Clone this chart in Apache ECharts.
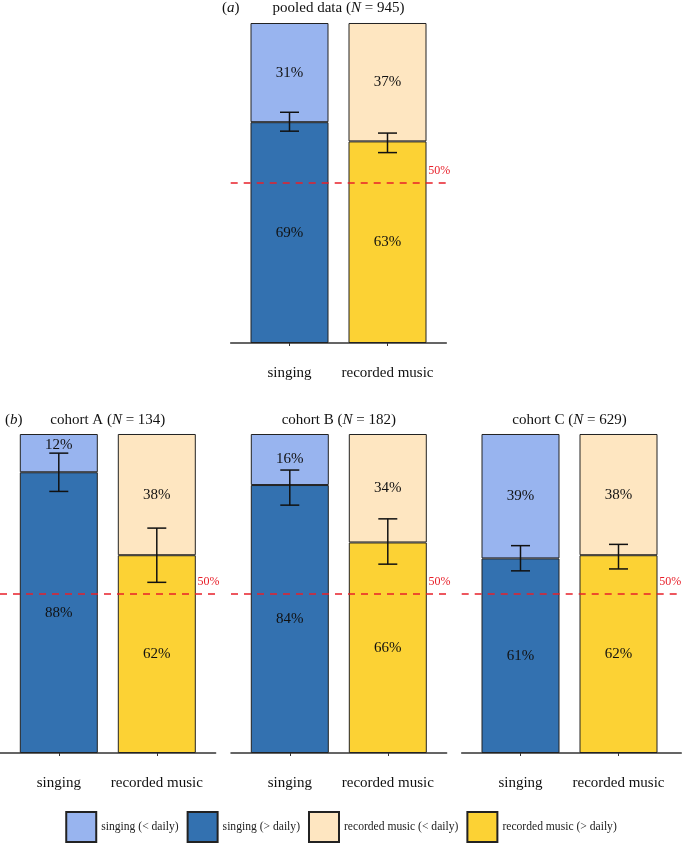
<!DOCTYPE html>
<html><head><meta charset="utf-8">
<script src="https://cdn.jsdelivr.net/npm/echarts@6/dist/echarts.min.js"></script>
<style>html,body{margin:0;padding:0;background:#fff}#c{width:682px;height:843px}</style>
</head><body><div id="c"></div>
<script>
// ---- data ----
const categories = ['singing', 'recorded music'];
const panelTitles = ['pooled data', 'cohort A', 'cohort B', 'cohort C'];
const panelN = [945, 134, 182, 629];
const panelTags = ['a', 'b', '', ''];
const singingAboveDaily = [69, 88, 84, 61];
const singingBelowDaily = [31, 12, 16, 39];
const recordedAboveDaily = [63, 62, 66, 62];
const recordedBelowDaily = [37, 38, 34, 38];
const singingCILow = [66.2, 82.0, 77.7, 57.1];
const singingCIHigh = [72.1, 94.0, 88.7, 65.0];
const recordedCILow = [59.5, 53.5, 59.2, 57.7];
const recordedCIHigh = [65.6, 70.5, 73.4, 65.4];
const referenceLine = 50;
const legendNames = ['singing (< daily)', 'singing (> daily)', 'recorded music (< daily)', 'recorded music (> daily)'];

// ---- layout / style ----
const FONT = '"Liberation Serif", "DejaVu Serif", serif';
const FS = 15;
const colors = {
  'singing (< daily)': '#98b4ef',
  'singing (> daily)': '#3371b0',
  'recorded music (< daily)': '#fee6c1',
  'recorded music (> daily)': '#fcd234'
};
const BAND = 98;          // px between category centres
const EXT = 0.6;          // axis-line extension beyond centres, in bands
const panels = [
  {c0: 289.5, top: 23, height: 320, offset: 16, extRight: 0, labelMargin: 7, titleTop: 1},
  {c0: 58.8, top: 434, height: 319, offset: 17, extRight: 0, labelMargin: 6, titleTop: 413},
  {c0: 289.8, top: 434, height: 319, offset: 17, extRight: 0, labelMargin: 6, titleTop: 413},
  {c0: 520.5, top: 434, height: 319, offset: 17, extRight: 4, labelMargin: 6, titleTop: 413}
];

const option = {
  animation: false,
  backgroundColor: '#fff',
  title: [], grid: [], xAxis: [], yAxis: [], series: [],
  legend: {
    data: legendNames,
    top: 811, left: 'center',
    itemWidth: 30, itemHeight: 30, itemGap: 8,
    padding: 0, selectedMode: false, icon: 'rect',
    textStyle: {fontFamily: FONT, fontSize: 11.6, color: '#222'}
  }
};

const richT = {i: {fontStyle: 'italic', fontFamily: FONT, fontSize: FS, color: '#111'}};

panels.forEach((p, i) => {
  option.grid.push({left: p.c0 - BAND / 2, top: p.top, width: 2 * BAND, height: p.height});
  const auxW = (1 + 2 * EXT) * BAND;
  option.grid.push({left: p.c0 - EXT * BAND, top: p.top, width: auxW + p.extRight, height: p.height});
  const mainG = 2 * i, auxG = 2 * i + 1;
  const cx = p.c0 + BAND / 2;
  option.title.push({
    text: panelTitles[i] + ' ({i|N} = ' + panelN[i] + ')',
    left: cx, top: p.titleTop, textAlign: 'center', padding: 0,
    textStyle: {fontFamily: FONT, fontSize: FS, fontWeight: 'normal', color: '#111', rich: richT}
  });
  if (panelTags[i]) {
    option.title.push({
      text: '({i|' + panelTags[i] + '})',
      left: i === 0 ? 222 : 5, top: p.titleTop, padding: 0,
      textStyle: {fontFamily: FONT, fontSize: FS, fontWeight: 'normal', color: '#111', rich: richT}
    });
  }
  option.xAxis.push({
    type: 'category', gridIndex: mainG, data: categories, offset: p.offset,
    axisLine: {show: false},
    axisTick: {show: true, alignWithLabel: true, length: 3, lineStyle: {color: '#333', width: 1}},
    axisLabel: {margin: p.labelMargin, fontFamily: FONT, fontSize: FS, color: '#111', interval: 0}
  });
  option.yAxis.push({type: 'value', gridIndex: mainG, min: 0, max: 100, show: false});
  option.xAxis.push({
    type: 'value', gridIndex: auxG, min: -EXT, max: 1 + EXT + p.extRight / BAND, offset: p.offset,
    splitLine: {show: false},
    axisLine: {show: true, lineStyle: {color: '#333', width: 1.5}},
    axisTick: {show: false}, axisLabel: {show: false}
  });
  option.yAxis.push({type: 'value', gridIndex: auxG, min: 0, max: 100, show: false});

  const bar = (name, stack, values) => {
    const v = values.find(x => x !== '-');
    return {
      type: 'bar', name: name, xAxisIndex: mainG, yAxisIndex: mainG, stack: stack + i,
      barWidth: 78, barGap: '-100%',
      data: values,
      itemStyle: {color: colors[name], borderColor: '#222', borderWidth: 1},
      label: {show: true, position: v < 14 ? 'insideTop' : 'inside', distance: 4,
        fontFamily: FONT, fontSize: FS, color: '#111',
        formatter: q => Math.round(q.value) + '%'},
      silent: true
    };
  };
  option.series.push(bar('singing (> daily)', 's', [singingAboveDaily[i], '-']));
  option.series.push(bar('singing (< daily)', 's', [singingBelowDaily[i], '-']));
  option.series.push(bar('recorded music (> daily)', 'r', ['-', recordedAboveDaily[i]]));
  option.series.push(bar('recorded music (< daily)', 'r', ['-', recordedBelowDaily[i]]));
  option.series.push({
    type: 'custom', name: 'ci', xAxisIndex: auxG, yAxisIndex: auxG, z: 10, silent: true,
    encode: {x: 0, y: [1, 2]},
    data: [[0, singingCILow[i], singingCIHigh[i]], [1, recordedCILow[i], recordedCIHigh[i]]],
    renderItem: (params, api) => {
      const x = api.value(0);
      const pLo = api.coord([x, api.value(1)]);
      const pHi = api.coord([x, api.value(2)]);
      const hw = 9.5;
      const style = {stroke: '#111', lineWidth: 1.5, fill: null};
      return {type: 'group', children: [
        {type: 'line', shape: {x1: pLo[0], y1: pLo[1], x2: pHi[0], y2: pHi[1]}, style: style},
        {type: 'line', shape: {x1: pLo[0] - hw, y1: pLo[1], x2: pLo[0] + hw, y2: pLo[1]}, style: style},
        {type: 'line', shape: {x1: pHi[0] - hw, y1: pHi[1], x2: pHi[0] + hw, y2: pHi[1]}, style: style}
      ]};
    },
    markLine: {
      silent: true, symbol: 'none', z: 5,
      lineStyle: {color: '#e8202a', type: [7, 6], width: 1.5},
      label: {show: true, position: 'insideEndTop', distance: [-4 + p.extRight, 6], formatter: referenceLine + '%',
        color: '#e8202a', fontFamily: FONT, fontSize: 12},
      data: [{yAxis: referenceLine}]
    }
  });
});

const chart = echarts.init(document.getElementById('c'), null, {renderer: 'canvas'});
chart.setOption(option);
</script></body></html>
